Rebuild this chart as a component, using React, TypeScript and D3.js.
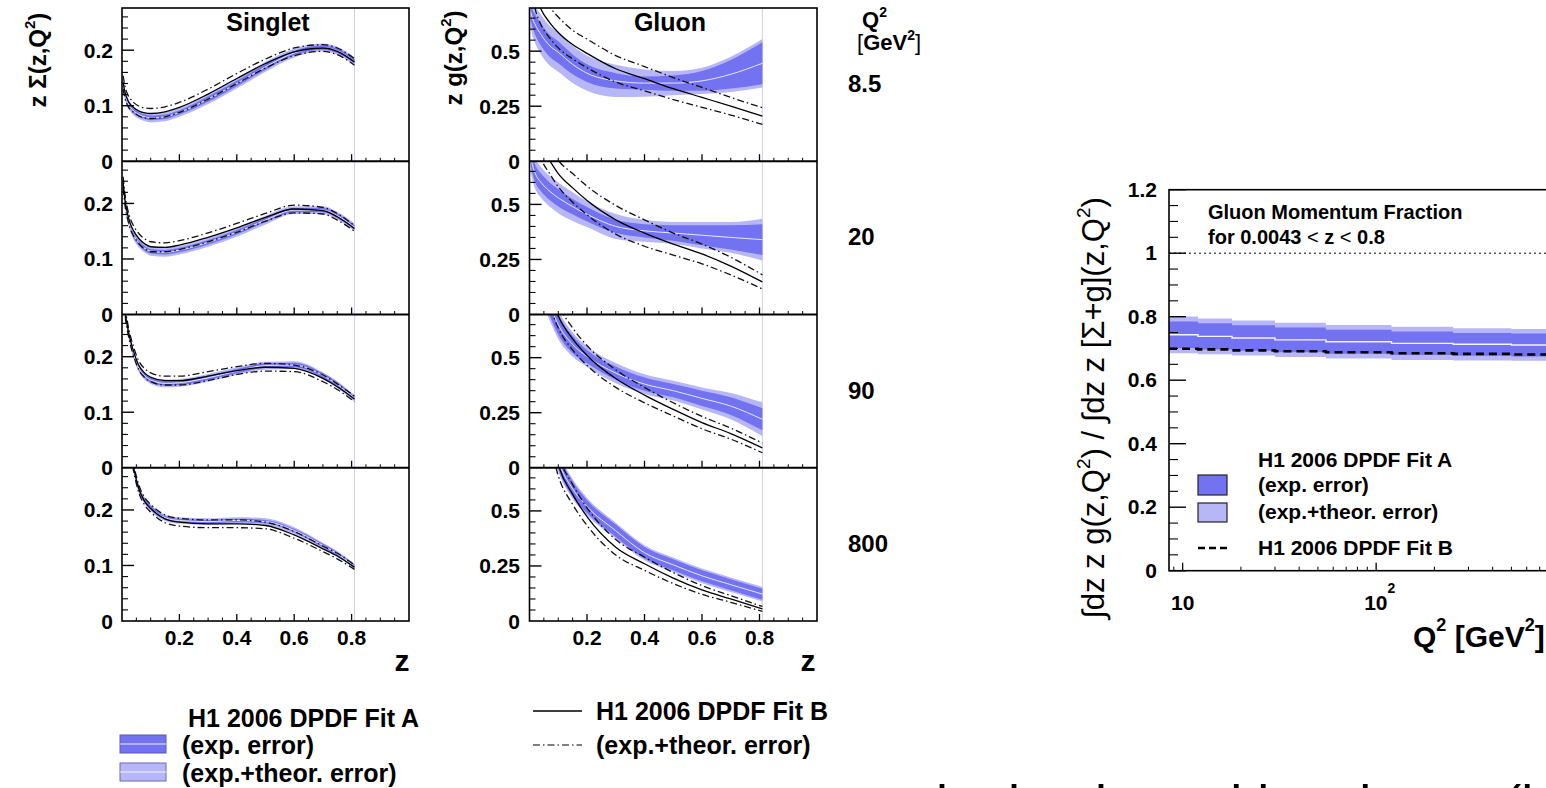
import React from "react";
import * as d3 from "d3";

const W = 1546;
const H = 788;
const FONT = "'Liberation Sans', Arial, Helvetica, sans-serif";
const DARK = "#7373f1";
const LIGHT = "#b7b7f7";

// ---------------- data ----------------
const Q2_LABELS = ["8.5", "20", "90", "800"];

const Z_SINGLET = [0.004, 0.01, 0.02, 0.03, 0.04, 0.06, 0.08, 0.1, 0.15, 0.2, 0.3, 0.4, 0.5, 0.6, 0.7, 0.75, 0.81];

const SING_A_8 = [0.140, 0.122, 0.106, 0.097, 0.091, 0.084, 0.080, 0.078, 0.080, 0.088, 0.112, 0.140, 0.170, 0.195, 0.205, 0.199, 0.180];
const SING_AEXP_8 = [0.006, 0.005, 0.005, 0.004, 0.004, 0.004, 0.004, 0.004, 0.004, 0.004, 0.005, 0.005, 0.005, 0.004, 0.004, 0.004, 0.004];
const SING_ATOT_8 = [0.012, 0.010, 0.009, 0.008, 0.008, 0.008, 0.008, 0.008, 0.008, 0.008, 0.009, 0.009, 0.009, 0.008, 0.007, 0.007, 0.007];
const SING_B_8 = [0.142, 0.125, 0.110, 0.102, 0.097, 0.090, 0.087, 0.086, 0.089, 0.097, 0.121, 0.149, 0.176, 0.197, 0.204, 0.198, 0.179];
const SING_BERR_8 = [0.012, 0.011, 0.010, 0.010, 0.009, 0.009, 0.009, 0.009, 0.009, 0.009, 0.009, 0.009, 0.008, 0.007, 0.006, 0.006, 0.006];

const SING_A_20 = [0.235, 0.205, 0.175, 0.155, 0.143, 0.128, 0.119, 0.114, 0.112, 0.116, 0.130, 0.148, 0.170, 0.188, 0.188, 0.178, 0.157];
const SING_AEXP_20 = [0.006, 0.005, 0.005, 0.004, 0.004, 0.004, 0.004, 0.004, 0.004, 0.004, 0.004, 0.004, 0.004, 0.004, 0.004, 0.004, 0.004];
const SING_ATOT_20 = [0.010, 0.009, 0.009, 0.008, 0.008, 0.008, 0.008, 0.008, 0.008, 0.008, 0.008, 0.008, 0.008, 0.007, 0.007, 0.007, 0.007];
const SING_B_20 = [0.238, 0.208, 0.180, 0.162, 0.151, 0.136, 0.127, 0.122, 0.121, 0.125, 0.139, 0.156, 0.175, 0.190, 0.187, 0.176, 0.155];
const SING_BERR_20 = [0.010, 0.010, 0.009, 0.009, 0.009, 0.009, 0.009, 0.009, 0.008, 0.008, 0.008, 0.008, 0.007, 0.007, 0.006, 0.006, 0.005];

const SING_A_90 = [0.360, 0.290, 0.250, 0.225, 0.205, 0.178, 0.165, 0.158, 0.152, 0.153, 0.162, 0.174, 0.184, 0.185, 0.166, 0.150, 0.125];
const SING_AEXP_90 = [0.005, 0.005, 0.004, 0.004, 0.004, 0.004, 0.004, 0.004, 0.004, 0.004, 0.004, 0.004, 0.004, 0.004, 0.004, 0.004, 0.003];
const SING_ATOT_90 = [0.009, 0.008, 0.008, 0.008, 0.008, 0.007, 0.007, 0.007, 0.007, 0.007, 0.007, 0.007, 0.007, 0.007, 0.006, 0.006, 0.006];
const SING_B_90 = [0.360, 0.290, 0.252, 0.228, 0.210, 0.183, 0.170, 0.163, 0.157, 0.157, 0.165, 0.175, 0.181, 0.179, 0.161, 0.146, 0.124];
const SING_BERR_90 = [0.009, 0.009, 0.008, 0.008, 0.008, 0.008, 0.008, 0.008, 0.008, 0.008, 0.008, 0.007, 0.007, 0.006, 0.006, 0.005, 0.005];

const SING_A_800 = [0.600, 0.460, 0.360, 0.310, 0.277, 0.236, 0.216, 0.204, 0.186, 0.181, 0.179, 0.181, 0.179, 0.163, 0.136, 0.121, 0.098];
const SING_AEXP_800 = [0.005, 0.005, 0.004, 0.004, 0.004, 0.004, 0.004, 0.004, 0.003, 0.003, 0.003, 0.003, 0.003, 0.003, 0.003, 0.003, 0.003];
const SING_ATOT_800 = [0.008, 0.008, 0.007, 0.007, 0.007, 0.007, 0.006, 0.006, 0.006, 0.006, 0.006, 0.006, 0.006, 0.006, 0.005, 0.005, 0.005];
const SING_B_800 = [0.600, 0.460, 0.360, 0.310, 0.278, 0.236, 0.215, 0.203, 0.184, 0.178, 0.175, 0.175, 0.172, 0.155, 0.130, 0.117, 0.097];
const SING_BERR_800 = [0.008, 0.008, 0.008, 0.008, 0.007, 0.007, 0.007, 0.007, 0.007, 0.007, 0.007, 0.007, 0.006, 0.006, 0.005, 0.005, 0.004];

const Z_GLUON = [0.004, 0.01, 0.02, 0.04, 0.07, 0.1, 0.15, 0.2, 0.3, 0.4, 0.5, 0.6, 0.7, 0.81];

const GLU_A_8 = [0.68, 0.65, 0.62, 0.575, 0.525, 0.495, 0.44, 0.40, 0.365, 0.355, 0.355, 0.365, 0.395, 0.445];
const GLU_AEXP_8 = [0.04, 0.04, 0.045, 0.05, 0.05, 0.05, 0.045, 0.04, 0.035, 0.03, 0.035, 0.045, 0.065, 0.095];
const GLU_ATOT_8 = [0.075, 0.08, 0.085, 0.09, 0.09, 0.088, 0.085, 0.08, 0.073, 0.062, 0.055, 0.06, 0.08, 0.11];
const GLU_B_8 = [0.90, 0.82, 0.76, 0.69, 0.63, 0.585, 0.53, 0.49, 0.42, 0.375, 0.33, 0.29, 0.25, 0.205];
const GLU_BERR_8 = [0.07, 0.07, 0.07, 0.07, 0.07, 0.07, 0.065, 0.065, 0.06, 0.055, 0.05, 0.045, 0.04, 0.038];

const GLU_A_20 = [0.72, 0.68, 0.64, 0.60, 0.56, 0.53, 0.49, 0.455, 0.40, 0.38, 0.37, 0.36, 0.35, 0.34];
const GLU_AEXP_20 = [0.04, 0.04, 0.04, 0.04, 0.04, 0.04, 0.035, 0.033, 0.03, 0.03, 0.035, 0.045, 0.055, 0.07];
const GLU_ATOT_20 = [0.07, 0.07, 0.07, 0.07, 0.07, 0.07, 0.065, 0.058, 0.057, 0.05, 0.05, 0.06, 0.07, 0.095];
const GLU_B_20 = [1.0, 0.93, 0.86, 0.77, 0.70, 0.64, 0.575, 0.518, 0.43, 0.37, 0.32, 0.275, 0.22, 0.148];
const GLU_BERR_20 = [0.06, 0.06, 0.06, 0.06, 0.06, 0.06, 0.065, 0.065, 0.065, 0.06, 0.05, 0.045, 0.04, 0.032];

const GLU_A_90 = [1.2, 1.05, 0.95, 0.84, 0.74, 0.65, 0.56, 0.505, 0.43, 0.38, 0.35, 0.315, 0.28, 0.22];
const GLU_AEXP_90 = [0.05, 0.05, 0.05, 0.05, 0.05, 0.045, 0.04, 0.03, 0.03, 0.03, 0.03, 0.035, 0.04, 0.05];
const GLU_ATOT_90 = [0.07, 0.07, 0.07, 0.07, 0.07, 0.065, 0.055, 0.047, 0.046, 0.045, 0.045, 0.05, 0.06, 0.077];
const GLU_B_90 = [1.5, 1.3, 1.15, 0.98, 0.80, 0.69, 0.585, 0.51, 0.405, 0.33, 0.265, 0.205, 0.155, 0.09];
const GLU_BERR_90 = [0.06, 0.06, 0.06, 0.06, 0.06, 0.055, 0.05, 0.045, 0.04, 0.035, 0.03, 0.028, 0.025, 0.022];

const GLU_A_800 = [2.0, 1.7, 1.4, 1.1, 0.88, 0.73, 0.60, 0.52, 0.41, 0.31, 0.255, 0.205, 0.165, 0.122];
const GLU_AEXP_800 = [0.05, 0.05, 0.05, 0.05, 0.05, 0.04, 0.035, 0.03, 0.028, 0.026, 0.025, 0.025, 0.025, 0.025];
const GLU_ATOT_800 = [0.06, 0.06, 0.06, 0.06, 0.06, 0.05, 0.045, 0.04, 0.036, 0.034, 0.033, 0.033, 0.033, 0.034];
const GLU_B_800 = [2.0, 1.7, 1.4, 1.1, 0.88, 0.71, 0.575, 0.474, 0.335, 0.26, 0.195, 0.141, 0.10, 0.055];
const GLU_BERR_800 = [0.06, 0.06, 0.06, 0.06, 0.06, 0.05, 0.045, 0.04, 0.035, 0.03, 0.025, 0.02, 0.015, 0.011];

const Q2_GRID = [8.5, 12, 18, 30, 55, 120, 250, 500, 1000, 1600];
const FRAC_A = [0.743, 0.738, 0.733, 0.727, 0.721, 0.716, 0.713, 0.711, 0.709, 0.708];
const FRAC_A_EXP = [0.042, 0.041, 0.040, 0.039, 0.038, 0.037, 0.036, 0.036, 0.035, 0.035];
const FRAC_A_TOT = [0.058, 0.056, 0.055, 0.054, 0.053, 0.052, 0.051, 0.050, 0.050, 0.050];
const FRAC_B = [0.699, 0.697, 0.694, 0.691, 0.688, 0.685, 0.683, 0.681, 0.679, 0.678];

const SINGLET_Y_MAJOR = [0.1, 0.2];
const SINGLET_Y_LABELS = ["0.1", "0.2"];
const GLUON_Y_MAJOR = [0.25, 0.5];
const GLUON_Y_LABELS = ["0.25", "0.5"];
const Z_MAJOR = [0.2, 0.4, 0.6, 0.8];
const Z_LABELS = ["0.2", "0.4", "0.6", "0.8"];
const FRAC_Y_MAJOR = [0, 0.2, 0.4, 0.6, 0.8, 1, 1.2];
const FRAC_Y_LABELS = ["0", "0.2", "0.4", "0.6", "0.8", "1", "1.2"];

const singletSets = [
  { a: SING_A_8, aExp: SING_AEXP_8, aTot: SING_ATOT_8, b: SING_B_8, bErr: SING_BERR_8 },
  { a: SING_A_20, aExp: SING_AEXP_20, aTot: SING_ATOT_20, b: SING_B_20, bErr: SING_BERR_20 },
  { a: SING_A_90, aExp: SING_AEXP_90, aTot: SING_ATOT_90, b: SING_B_90, bErr: SING_BERR_90 },
  { a: SING_A_800, aExp: SING_AEXP_800, aTot: SING_ATOT_800, b: SING_B_800, bErr: SING_BERR_800 },
];
const gluonSets = [
  { a: GLU_A_8, aExp: GLU_AEXP_8, aTot: GLU_ATOT_8, b: GLU_B_8, bErr: GLU_BERR_8 },
  { a: GLU_A_20, aExp: GLU_AEXP_20, aTot: GLU_ATOT_20, b: GLU_B_20, bErr: GLU_BERR_20 },
  { a: GLU_A_90, aExp: GLU_AEXP_90, aTot: GLU_ATOT_90, b: GLU_B_90, bErr: GLU_BERR_90 },
  { a: GLU_A_800, aExp: GLU_AEXP_800, aTot: GLU_ATOT_800, b: GLU_B_800, bErr: GLU_BERR_800 },
];

// ---------------- layout ----------------
const GRID_TOP = 8;
const GRID_BOT = 621;
const PANEL_H = (GRID_BOT - GRID_TOP) / 4;
const DASHDOT = "7,3,1.5,3";

type SetT = { a: number[]; aExp: number[]; aTot: number[]; b: number[]; bErr: number[] };

function Panel(props: {
  id: string;
  x0: number;
  x1: number;
  top: number;
  bot: number;
  yMax: number;
  minorStep: number;
  yMajor: number[];
  z: number[];
  set: SetT;
}) {
  const { id, x0, x1, top, bot, yMax, minorStep, yMajor, z, set } = props;
  const xs = d3.scaleLinear().domain([0, 1]).range([x0, x1]);
  const ys = d3.scaleLinear().domain([0, yMax]).range([bot, top]);
  const idx = d3.range(z.length);
  const curve = d3.curveMonotoneX;
  const band = (w: number[]) =>
    d3
      .area<number>()
      .x((i) => xs(z[i]))
      .y0((i) => ys(set.a[i] - w[i]))
      .y1((i) => ys(set.a[i] + w[i]))
      .curve(curve)(idx) || "";
  const line = (vals: (i: number) => number) =>
    d3
      .line<number>()
      .x((i) => xs(z[i]))
      .y((i) => ys(vals(i)))
      .curve(curve)(idx) || "";
  const minorY = d3.range(minorStep, yMax, minorStep).filter((v) => !yMajor.some((m) => Math.abs(m - v) < 1e-6));
  const minorX = d3.range(0.05, 1, 0.05).filter((v) => !Z_MAJOR.some((m) => Math.abs(m - v) < 1e-6));
  return (
    <g>
      <defs>
        <clipPath id={id}>
          <rect x={x0} y={top} width={x1 - x0} height={bot - top} />
        </clipPath>
      </defs>
      <g clipPath={`url(#${id})`}>
        <line x1={xs(0.81)} x2={xs(0.81)} y1={top} y2={bot} stroke="#cfd0e6" strokeWidth={1} />
        <path d={band(set.aTot)} fill={LIGHT} />
        <path d={band(set.aExp)} fill={DARK} />
        <path d={line((i) => set.a[i])} fill="none" stroke="#e6e6ff" strokeWidth={1} />
        <path d={line((i) => set.b[i] + set.bErr[i])} fill="none" stroke="#111" strokeWidth={1.3} strokeDasharray={DASHDOT} />
        <path d={line((i) => set.b[i] - set.bErr[i])} fill="none" stroke="#111" strokeWidth={1.3} strokeDasharray={DASHDOT} />
        <path d={line((i) => set.b[i])} fill="none" stroke="#000" strokeWidth={1.3} />
      </g>
      {yMajor.map((v) => (
        <line key={"ym" + v} x1={x0} x2={x0 + 12} y1={ys(v)} y2={ys(v)} stroke="#000" strokeWidth={1.4} />
      ))}
      {minorY.map((v) => (
        <line key={"yn" + v} x1={x0} x2={x0 + 6} y1={ys(v)} y2={ys(v)} stroke="#000" strokeWidth={1.1} />
      ))}
      {Z_MAJOR.map((v) => (
        <line key={"xm" + v} x1={xs(v)} x2={xs(v)} y1={bot} y2={bot - 7} stroke="#000" strokeWidth={1.3} />
      ))}
      {minorX.map((v) => (
        <line key={"xn" + v} x1={xs(v)} x2={xs(v)} y1={bot} y2={bot - 3.5} stroke="#000" strokeWidth={1} />
      ))}
    </g>
  );
}

function Column(props: {
  prefix: string;
  x0: number;
  x1: number;
  yMax: number;
  minorStep: number;
  yMajor: number[];
  yLabels: string[];
  z: number[];
  sets: SetT[];
  labelRight: number;
}) {
  const { prefix, x0, x1, yMax, minorStep, yMajor, yLabels, z, sets, labelRight } = props;
  const xs = d3.scaleLinear().domain([0, 1]).range([x0, x1]);
  return (
    <g>
      {sets.map((s, k) => {
        const top = GRID_TOP + k * PANEL_H;
        const bot = top + PANEL_H;
        const ys = d3.scaleLinear().domain([0, yMax]).range([bot, top]);
        return (
          <g key={k}>
            <Panel id={`${prefix}${k}`} x0={x0} x1={x1} top={top} bot={bot} yMax={yMax} minorStep={minorStep} yMajor={yMajor} z={z} set={s} />
            <text x={labelRight} y={bot + 7.5} textAnchor="end" fontSize={21} fontWeight="bold">0</text>
            {yMajor.map((v, j) => (
              <text key={j} x={labelRight} y={ys(v) + 7.5} textAnchor="end" fontSize={21} fontWeight="bold">
                {yLabels[j]}
              </text>
            ))}
          </g>
        );
      })}
      <rect x={x0} y={GRID_TOP} width={x1 - x0} height={GRID_BOT - GRID_TOP} fill="none" stroke="#000" strokeWidth={1.6} />
      {[1, 2, 3].map((k) => (
        <line key={k} x1={x0} x2={x1} y1={GRID_TOP + k * PANEL_H} y2={GRID_TOP + k * PANEL_H} stroke="#000" strokeWidth={2} />
      ))}
      {Z_MAJOR.map((v, j) => (
        <text key={j} x={xs(v)} y={645} textAnchor="middle" fontSize={21} fontWeight="bold">
          {Z_LABELS[j]}
        </text>
      ))}
    </g>
  );
}

function FractionPanel() {
  const x0 = 1169;
  const xs = d3.scaleLog().domain([8.5, 1600]).range([x0, x0 + 193.5 * Math.log10(1600 / 8.5)]);
  const ys = d3.scaleLinear().domain([0, 1.2]).range([570.7, 189.7]);
  const idx = d3.range(Q2_GRID.length);
  const band = (w: number[]) =>
    d3
      .area<number>()
      .x((i) => xs(Q2_GRID[i]))
      .y0((i) => ys(FRAC_A[i] - w[i]))
      .y1((i) => ys(FRAC_A[i] + w[i]))
      .curve(d3.curveStepAfter)(idx) || "";
  const line = (vals: number[]) =>
    d3
      .line<number>()
      .x((i) => xs(Q2_GRID[i]))
      .y((i) => ys(vals[i]))
      .curve(d3.curveStepAfter)(idx) || "";
  const xr = xs.range();
  const minorY = d3.range(0.05, 1.2, 0.05).filter((v) => !FRAC_Y_MAJOR.some((m) => Math.abs(m - v) < 1e-6));
  const logMinor = [9, 20, 30, 40, 50, 60, 70, 80, 90, 200, 300, 400, 500, 600, 700, 800, 900];
  const logMajor = [10, 100, 1000];
  return (
    <g>
      <path d={band(FRAC_A_TOT)} fill={LIGHT} />
      <path d={band(FRAC_A_EXP)} fill={DARK} />
      <path d={line(FRAC_A)} fill="none" stroke="#f4f4ff" strokeWidth={1.4} />
      <path d={line(FRAC_B)} fill="none" stroke="#000" strokeWidth={2.6} strokeDasharray="8,5" />
      <line x1={x0} x2={xr[1]} y1={ys(1)} y2={ys(1)} stroke="#000" strokeWidth={1} strokeDasharray="2,3" />
      <rect x={x0} y={ys(1.2)} width={xr[1] - x0} height={ys(0) - ys(1.2)} fill="none" stroke="#000" strokeWidth={1.6} />
      {FRAC_Y_MAJOR.map((v, j) => (
        <g key={j}>
          <line x1={x0} x2={x0 + 17} y1={ys(v)} y2={ys(v)} stroke="#000" strokeWidth={1.4} />
          <text x={1157} y={ys(v) + 7} textAnchor="end" fontSize={21} fontWeight="bold">
            {FRAC_Y_LABELS[j]}
          </text>
        </g>
      ))}
      {minorY.map((v) => (
        <line key={v} x1={x0} x2={x0 + 9} y1={ys(v)} y2={ys(v)} stroke="#000" strokeWidth={1.1} />
      ))}
      {logMajor.map((v) => (
        <line key={v} x1={xs(v)} x2={xs(v)} y1={ys(0)} y2={ys(0) - 8} stroke="#000" strokeWidth={1.3} />
      ))}
      {logMinor.map((v) => (
        <line key={v} x1={xs(v)} x2={xs(v)} y1={ys(0)} y2={ys(0) - 4} stroke="#000" strokeWidth={1} />
      ))}
      <text x={xs(10)} y={610} textAnchor="middle" fontSize={21} fontWeight="bold">10</text>
      <text x={xs(100) - 12} y={610} fontSize={21} fontWeight="bold">
        10
        <tspan fontSize={14} dy={-17}>2</tspan>
      </text>
      <text x={1208} y={219} fontSize={20} fontWeight="bold">Gluon Momentum Fraction</text>
      <text x={1208} y={244} fontSize={20} fontWeight="bold">
        for 0.0043 <tspan fontWeight="normal">{"<"}</tspan> z <tspan fontWeight="normal">{"<"}</tspan> 0.8
      </text>
      {/* legend */}
      <text x={1258} y={467} fontSize={21} fontWeight="bold">H1 2006 DPDF Fit A</text>
      <rect x={1198} y={475} width={29} height={20} fill={DARK} stroke="#222" strokeWidth={1.2} />
      <text x={1258} y={492} fontSize={21} fontWeight="bold">(exp. error)</text>
      <rect x={1198} y={503} width={29} height={19} fill={LIGHT} stroke="#222" strokeWidth={1.2} />
      <text x={1258} y={519} fontSize={21} fontWeight="bold">(exp.+theor. error)</text>
      <line x1={1198} x2={1227} y1={548} y2={548} stroke="#000" strokeWidth={2.6} strokeDasharray="7,4" />
      <text x={1258} y={555} fontSize={21} fontWeight="bold">H1 2006 DPDF Fit B</text>
      {/* axis titles */}
      <text x={1413} y={647} fontSize={30} fontWeight="bold">
        Q<tspan fontSize={18} dy={-16}>2</tspan>
        <tspan dy={16}> [GeV</tspan>
        <tspan fontSize={18} dy={-16}>2</tspan>
        <tspan dy={16}>]</tspan>
      </text>
      <text transform="translate(1104,408) rotate(-90)" textAnchor="middle" fontSize={31}>
        ∫dz z g(z,Q<tspan fontSize={19} dy={-14}>2</tspan>
        <tspan dy={14}>) / ∫dz z [Σ+g](z,Q</tspan>
        <tspan fontSize={19} dy={-14}>2</tspan>
        <tspan dy={14}>)</tspan>
      </text>
    </g>
  );
}

export default function App() {
  return (
    <svg
      width={W}
      height={H}
      viewBox={`0 0 ${W} ${H}`}
      style={{ position: "absolute", left: 0, top: 0, background: "#fff" }}
      fontFamily={FONT}
    >
      <rect x={0} y={0} width={W} height={H} fill="#fff" />
      <Column
        prefix="sing"
        x0={122}
        x1={409}
        yMax={0.276}
        minorStep={0.02}
        yMajor={SINGLET_Y_MAJOR}
        yLabels={SINGLET_Y_LABELS}
        z={Z_SINGLET}
        sets={singletSets}
        labelRight={113}
      />
      <Column
        prefix="glu"
        x0={529.5}
        x1={817}
        yMax={0.696}
        minorStep={0.05}
        yMajor={GLUON_Y_MAJOR}
        yLabels={GLUON_Y_LABELS}
        z={Z_GLUON}
        sets={gluonSets}
        labelRight={520}
      />
      <text x={268} y={31} textAnchor="middle" fontSize={25} fontWeight="bold">Singlet</text>
      <text x={670} y={31} textAnchor="middle" fontSize={25} fontWeight="bold">Gluon</text>
      <text x={402} y={671} textAnchor="middle" fontSize={30} fontWeight="bold">z</text>
      <text x={808} y={671} textAnchor="middle" fontSize={30} fontWeight="bold">z</text>
      <text transform="translate(46,60) rotate(-90)" textAnchor="middle" fontSize={24} fontWeight="bold">
        z Σ(z,Q<tspan fontSize={15} dy={-11}>2</tspan>
        <tspan dy={11}>)</tspan>
      </text>
      <text transform="translate(462,58) rotate(-90)" textAnchor="middle" fontSize={24} fontWeight="bold">
        z g(z,Q<tspan fontSize={15} dy={-11}>2</tspan>
        <tspan dy={11}>)</tspan>
      </text>
      {/* Q2 column */}
      <text x={862} y={27} fontSize={22} fontWeight="bold">
        Q<tspan fontSize={14} dy={-10}>2</tspan>
      </text>
      <text x={857} y={50} fontSize={22} fontWeight="bold">
        <tspan fontWeight="normal">[</tspan>GeV<tspan fontSize={14} dy={-10}>2</tspan>
        <tspan dy={10} fontWeight="normal">]</tspan>
      </text>
      {Q2_LABELS.map((l, k) => (
        <text key={l} x={848} y={GRID_TOP + k * PANEL_H + 84} fontSize={24} fontWeight="bold">
          {l}
        </text>
      ))}
      {/* bottom legend */}
      <text x={188} y={727} fontSize={25} fontWeight="bold">H1 2006 DPDF Fit A</text>
      <rect x={120} y={735} width={46} height={18} fill={DARK} stroke="#5858b8" strokeWidth={1} />
      <line x1={120} x2={166} y1={744} y2={744} stroke="#eef" strokeWidth={1} />
      <text x={182} y={754} fontSize={25} fontWeight="bold">(exp. error)</text>
      <rect x={120} y={763} width={46} height={18} fill={LIGHT} stroke="#6a6ab8" strokeWidth={1} />
      <line x1={120} x2={166} y1={772} y2={772} stroke="#f4f4ff" strokeWidth={1} />
      <text x={182} y={782} fontSize={25} fontWeight="bold">(exp.+theor. error)</text>
      <line x1={533} x2={582} y1={711} y2={711} stroke="#000" strokeWidth={1.3} />
      <text x={596} y={720} fontSize={25} fontWeight="bold">H1 2006 DPDF Fit B</text>
      <line x1={533} x2={582} y1={745} y2={745} stroke="#000" strokeWidth={1.2} strokeDasharray={DASHDOT} />
      <text x={596} y={754} fontSize={25} fontWeight="bold">(exp.+theor. error)</text>
      <FractionPanel />
      {/* slide text cut by the bottom edge */}
      <text x={936} y={823} fontSize={54} fill="#000">
        is dominated by gluons (in the
      </text>
    </svg>
  );
}
